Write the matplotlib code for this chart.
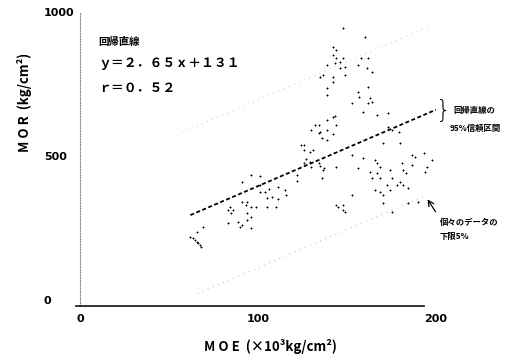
import matplotlib
matplotlib.use("Agg")
import matplotlib.pyplot as plt
import numpy as np

# ---- data ----
moe = [143, 132, 134, 139, 144, 139, 142, 130, 136, 124, 126, 126, 131, 127, 126, 130, 135, 137, 144, 136,
       122, 122, 96, 101, 91, 101, 104, 106, 111, 101, 115, 105, 108, 111, 116, 84, 86, 83, 85, 91,
       93, 94, 96, 99, 94, 96, 94, 105, 110, 83, 91, 90, 96, 69, 66, 62, 63.5, 64.6, 65.7, 66.3,
       67.4, 68, 145, 148, 160, 142, 144, 142, 144, 143, 146, 148, 139, 146, 149, 156, 158, 162, 161, 164,
       136.5, 135, 142, 142, 149, 139, 139, 156, 162, 153, 157, 163, 162, 164, 159, 167, 173, 142, 135, 134,
       173, 175, 179, 139, 170, 180, 153, 159, 166, 167, 186.5, 188, 193, 198, 195, 194, 181, 181.5, 183, 186.5,
       174, 175, 168.5, 167, 168.5, 163, 164, 156, 136.5, 178, 180, 181.5, 184, 172.5, 174, 166, 168.5, 170, 153, 170,
       144, 148, 148, 184, 190, 129, 129, 134, 89, 149, 175]
mor = [639, 608, 608, 625, 608, 591, 577, 591, 563, 539, 539, 521, 521, 490, 476, 462, 466, 459, 462, 424,
       435, 414, 435, 431, 410, 400, 376, 386, 393, 376, 383, 355, 358, 351, 365, 324, 313, 313, 303, 341,
       330, 341, 324, 324, 303, 289, 278, 324, 324, 268, 261, 254, 251, 254, 237, 219, 216, 209, 202, 199,
       192, 185, 324, 945, 913, 879, 868, 851, 840, 823, 827, 840, 816, 806, 809, 816, 840, 840, 806, 792,
       781, 775, 775, 757, 781, 736, 712, 722, 740, 684, 705, 702, 684, 688, 653, 643, 650, 636, 584, 580,
       601, 591, 584, 556, 546, 546, 504, 494, 487, 476, 504, 497, 511, 487, 462, 445, 476, 452, 441, 469,
       452, 424, 462, 441, 424, 445, 424, 459, 452, 400, 410, 400, 389, 400, 383, 383, 376, 365, 365, 337,
       330, 330, 313, 337, 341, 514, 480, 476, 272, 306, 306]

slope, intercept = 2.65, 131
r_value = 0.52
upper_offset, lower_offset = 430, -152
x_ticks = [0, 100, 200]
y_ticks = [0, 500, 1000]

W, H = 519, 360
fig = plt.figure(figsize=(W / 100, H / 100), dpi=100)
fig.patch.set_facecolor("white")


def fx(px):
    return px / W


def fy(py):
    return 1 - py / H


ax = fig.add_axes([fx(80), fy(306), (436 - 80) / W, (306 - 12) / H])
ax.set_xlim(0, 200)
ax.set_ylim(-20, 1000)

# faint band lines
xb = np.array([57, 197])
ax.plot(xb, slope * xb + upper_offset, color="#d4d4d4", lw=0.8, ls=(0, (1, 4)))
xl = np.array([66, 195])
ax.plot(xl, slope * xl + lower_offset, color="#c4c4c4", lw=0.8, ls=(0, (1, 4)))

# scatter
ax.scatter(moe, mor, marker="+", s=4.5, color="black", linewidths=0.7, zorder=3)

# regression line
xr = np.array([62, 200])
ax.plot(xr, slope * xr + intercept, color="black", lw=1.3, ls=(0, (2.2, 1.4)), zorder=4)

# spines
for s in ["top", "right"]:
    ax.spines[s].set_visible(False)
ax.spines["left"].set_color("#888888")
ax.spines["left"].set_linestyle((0, (1, 1.5)))
ax.spines["left"].set_linewidth(0.8)
ax.spines["bottom"].set_color("#222222")
ax.spines["bottom"].set_linewidth(1.3)
ax.spines["bottom"].set_bounds(-2, 193)

ax.set_xticks(x_ticks)
ax.set_xticklabels([str(v) for v in x_ticks], fontsize=8, fontweight="bold", family="DejaVu Sans")
ax.set_yticks(y_ticks)
ax.set_yticklabels([str(v) for v in y_ticks], fontsize=8, fontweight="bold", family="DejaVu Sans")
ax.tick_params(axis="x", length=0, pad=6)
ax.tick_params(axis="y", length=0, pad=26)
for lab in ax.get_yticklabels():
    lab.set_horizontalalignment("left")

jp = ["Noto Sans CJK JP", "DejaVu Sans"]

# axis labels
fig.text(fx(270), fy(346), "M O E  (×10³kg/cm²)", fontsize=9.5, fontweight="bold",
         ha="center", va="center", family=jp)
fig.text(fx(25), fy(102), "M O R  (kg/cm²)", fontsize=9.5, fontweight="bold",
         ha="center", va="center", rotation=90, family=jp)

# equation block
fig.text(fx(98), fy(42), "回帰直線", fontsize=7.5, fontweight="bold", ha="left", va="center", family=jp)
fig.text(fx(98), fy(63), "ｙ＝２．６５ｘ＋１３１", fontsize=9.3, fontweight="bold",
         ha="left", va="center", family=jp)
fig.text(fx(98), fy(88), "ｒ＝０．５２", fontsize=9.3, fontweight="bold",
         ha="left", va="center", family=jp)

# annotations
fig.text(fx(443), fy(111), "}", fontsize=17, ha="center", va="center", family="DejaVu Sans",
         fontweight="light")
fig.text(fx(453), fy(110), "回帰直線の", fontsize=6, fontweight="bold", ha="left", va="center", family=jp)
fig.text(fx(450), fy(128), "95%信頼区間", fontsize=6, fontweight="bold", ha="left", va="center", family=jp)

fig.text(fx(440), fy(222), "個々のデータの", fontsize=6, fontweight="bold", ha="left", va="center", family=jp)
fig.text(fx(440), fy(237), "下限5%", fontsize=6, fontweight="bold", ha="left", va="center", family=jp)
ax.annotate("", xy=(fx(426), fy(197)), xycoords="figure fraction",
            xytext=(fx(437), fy(214)), textcoords="figure fraction",
            arrowprops=dict(arrowstyle="->", color="black", lw=0.9))

fig.savefig("out.png", dpi=100, facecolor="white")
